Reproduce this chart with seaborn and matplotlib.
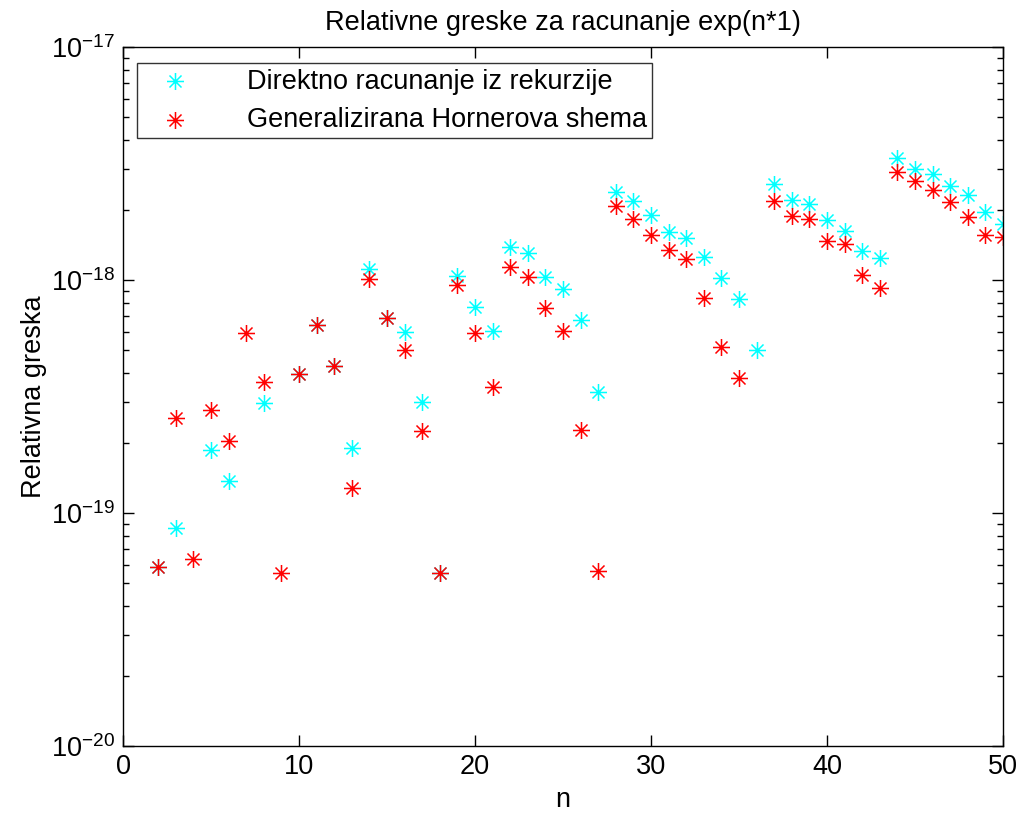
import numpy as np
import pandas as pd
import matplotlib
matplotlib.use("Agg")
import matplotlib.pyplot as plt
import seaborn as sns
from matplotlib.path import Path
from matplotlib.ticker import FixedLocator, NullFormatter

nan = np.nan

# n values and relative errors (NaN = zero error, not shown on log scale)
n = np.arange(2, 51)

direktno = [5.86e-20, 8.65e-20, nan, 1.86e-19, 1.37e-19, nan, 2.96e-19, nan, 3.95e-19,
            6.41e-19, 4.29e-19, 1.91e-19, 1.11e-18, 6.85e-19, 6.00e-19, 2.99e-19, 5.54e-20,
            1.04e-18, 7.68e-19, 6.06e-19, 1.39e-18, 1.31e-18, 1.03e-18, 9.15e-19, 6.74e-19,
            3.32e-19, 2.39e-18, 2.18e-18, 1.91e-18, 1.61e-18, 1.51e-18, 1.25e-18, 1.02e-18,
            8.29e-19, 5.01e-19, 2.58e-18, 2.21e-18, 2.12e-18, 1.81e-18, 1.63e-18, 1.33e-18,
            1.24e-18, 3.34e-18, 2.99e-18, 2.86e-18, 2.53e-18, 2.32e-18, 1.96e-18, 1.74e-18]

horner = [5.86e-20, 2.55e-19, 6.35e-20, 2.77e-19, 2.04e-19, 5.94e-19, 3.66e-19, 5.51e-20,
          3.95e-19, 6.41e-19, 4.29e-19, 1.28e-19, 1.01e-18, 6.85e-19, 5.01e-19, 2.25e-19,
          5.54e-20, 9.52e-19, 5.93e-19, 3.48e-19, 1.14e-18, 1.03e-18, 7.60e-19, 6.06e-19,
          2.27e-19, 5.62e-20, 2.08e-18, 1.83e-18, 1.56e-18, 1.35e-18, 1.23e-18, 8.37e-19,
          5.15e-19, 3.80e-19, nan, 2.18e-18, 1.89e-18, 1.83e-18, 1.47e-18, 1.43e-18,
          1.05e-18, 9.27e-19, 2.92e-18, 2.66e-18, 2.44e-18, 2.17e-18, 1.86e-18, 1.56e-18,
          1.53e-18]

labels = ["Direktno racunanje iz rekurzije", "Generalizirana Hornerova shema"]
colors = ["#00ffff", "#ff0000"]
y_major = [1e-20, 1e-19, 1e-18, 1e-17]
x_major = [0, 10, 20, 30, 40, 50]

sns.set_style("white")
plt.rcParams["font.family"] = ["Liberation Sans", "DejaVu Sans"]
plt.rcParams["mathtext.fontset"] = "custom"
plt.rcParams["mathtext.rm"] = "Liberation Sans"
plt.rcParams["text.color"] = "black"
plt.rcParams["axes.labelcolor"] = "black"
fs = 19.5

# MATLAB-like asterisk marker (+ and x combined)
d = 0.7071
star = Path([(-1, 0), (1, 0), (0, -1), (0, 1), (-d, -d), (d, d), (-d, d), (d, -d)],
            [Path.MOVETO, Path.LINETO] * 4)

df = pd.DataFrame({"n": np.concatenate([n, n]),
                   "err": np.concatenate([direktno, horner]),
                   "metoda": [labels[0]] * len(n) + [labels[1]] * len(n)}).dropna()

fig = plt.figure(figsize=(10.21, 8.15), dpi=100)
ax = fig.add_axes([0.1205, 0.0847, 0.8619, 0.8576])

for lab, col in zip(labels, colors):
    sub = df[df["metoda"] == lab]
    sns.scatterplot(data=sub, x="n", y="err", ax=ax, marker=star, s=150,
                    color=col, edgecolor=col, linewidth=1.1, label=lab)

ax.set_yscale("log")
ax.set_xlim(0, 50)
ax.set_ylim(1e-20, 1e-17)
ax.set_xticks(x_major)
ax.set_yticks(y_major)
minors = [m * 10.0 ** e for e in (-20, -19, -18) for m in range(2, 10)]
ax.yaxis.set_minor_locator(FixedLocator(minors))
ax.yaxis.set_minor_formatter(NullFormatter())

ax.tick_params(which="both", direction="in", top=True, right=True, left=True,
               bottom=True, colors="black", labelsize=fs)
ax.tick_params(which="major", length=8, width=1, pad=6)
ax.tick_params(which="minor", length=4, width=1)
for sp in ax.spines.values():
    sp.set_color("black")
    sp.set_linewidth(1)

ax.set_xlabel("n", fontsize=fs, labelpad=5, color="black")
ax.set_ylabel("Relativna greska", fontsize=fs, labelpad=2.5, color="black")
ax.set_title("Relativne greske za racunanje exp(n*1)", fontsize=fs, pad=12, color="black")

leg = ax.legend(loc="upper left", fontsize=fs, frameon=True, fancybox=False,
                edgecolor="black", borderpad=0.2, handlelength=2.4, handletextpad=1.45,
                labelspacing=0.45, borderaxespad=0, bbox_to_anchor=(0.0159, 0.977),
                markerscale=1)
leg.get_frame().set_linewidth(1)
for t in leg.get_texts():
    t.set_color("black")

fig.savefig("out.png", dpi=100)
